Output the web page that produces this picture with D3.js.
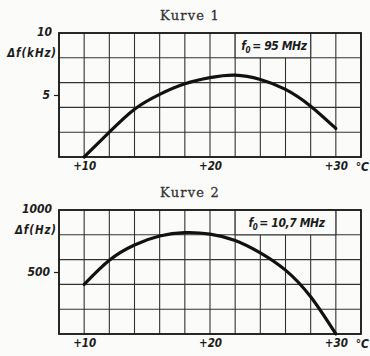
<!DOCTYPE html>
<html><head><meta charset="utf-8">
<script src="https://cdn.jsdelivr.net/npm/d3@7"></script>
<style>body{margin:0;background:#fbfbfa}svg{display:block}</style>
</head><body>
<svg id="c" width="370" height="356"></svg>
<script>
const temps = [10, 12, 14, 16, 18, 20, 22, 24, 26, 28, 30];
const curve1 = [0, 2.0, 3.85, 5.05, 5.9, 6.4, 6.6, 6.25, 5.45, 4.1, 2.3];
const curve2 = [400, 595, 718, 790, 818, 806, 755, 655, 515, 300, 0];
const xTickValues = [10, 20, 30];
const xTickLabels = ["+10", "+20", "+30"];
const yTicks1 = [10, 5];
const yTicks2 = [1000, 500];
const titles = ["Kurve 1", "Kurve 2"];
const units = ["Δf(kHz)", "Δf(Hz)"];
const freqs = ["= 95 MHz", "= 10,7 MHz"];

const svg = d3.select("#c");
const ink = "#1c1c1c";
const labFont = "'DejaVu Sans Condensed','DejaVu Sans',sans-serif";

function panel(top, yMax, values, yTicks, title, unit, freq, boxCols) {
  const x = d3.scaleLinear().domain([8, 32]).range([59, 361]);
  const y = d3.scaleLinear().domain([0, yMax]).range([top + 124, top]);
  const g = svg.append("g");
  // title
  g.append("text").attr("x", 190).attr("y", top - 13).attr("text-anchor", "middle")
    .attr("font-family", "'DejaVu Serif',serif").attr("font-size", 13)
    .attr("letter-spacing", 1.2).attr("fill", "#333").attr("stroke", "#333")
    .attr("stroke-width", 0.3).text(title);
  // grid
  const xs = d3.range(8, 33, 2), ys = d3.range(0, yMax + 1e-9, yMax / 5);
  g.selectAll(".v").data(xs).join("line").attr("x1", d => x(d)).attr("x2", d => x(d))
    .attr("y1", y(0)).attr("y2", y(yMax)).attr("stroke", "#333").attr("stroke-width", 1.1);
  g.selectAll(".h").data(ys).join("line").attr("y1", d => y(d)).attr("y2", d => y(d))
    .attr("x1", x(8)).attr("x2", x(32)).attr("stroke", "#333").attr("stroke-width", 1.1);
  // label box
  g.append("rect").attr("x", x(boxCols[0])).attr("y", y(yMax))
    .attr("width", x(boxCols[1]) - x(boxCols[0])).attr("height", y(yMax * 0.8) - y(yMax))
    .attr("fill", "#fbfbfa").attr("stroke", "#333").attr("stroke-width", 1.1);
  const t = g.append("text").attr("x", (x(boxCols[0]) + x(boxCols[1])) / 2 + 1)
    .attr("y", y(yMax * 0.9) + 4.5).attr("text-anchor", "middle")
    .attr("font-family", labFont).attr("font-style", "italic").attr("font-weight", "bold")
    .attr("font-size", 12).attr("fill", ink).attr("letter-spacing", -0.4);
  t.append("tspan").text("f");
  t.append("tspan").attr("font-size", 8).attr("dy", 3).text("0");
  t.append("tspan").attr("dy", -3).attr("dx", 2).text(freq);
  // frame
  g.append("rect").attr("x", x(8)).attr("y", y(yMax)).attr("width", x(32) - x(8))
    .attr("height", y(0) - y(yMax)).attr("fill", "none").attr("stroke", ink).attr("stroke-width", 1.8);
  // y axis
  const ya = d3.axisLeft(y).tickValues(yTicks).tickSize(5).tickPadding(4).tickFormat(d3.format("d"));
  const yg = g.append("g").attr("transform", `translate(${x(8)},0)`).call(ya);
  yg.select(".domain").remove();
  yg.selectAll(".tick line").attr("stroke", ink).attr("stroke-width", 1.2)
    .filter(d => d === yMax).remove();
  yg.selectAll(".tick text").attr("font-family", labFont).attr("font-style", "italic")
    .attr("font-weight", "bold").attr("font-size", 12).attr("fill", ink)
    .attr("dx", d => d === yMax ? 2 : 0).attr("dy", d => d === yMax ? "0.2em" : "0.32em");
  g.append("text").attr("x", x(8) - 2).attr("y", y(yMax * 0.8) - 1).attr("text-anchor", "end")
    .attr("font-family", labFont).attr("font-style", "italic").attr("font-weight", "bold")
    .attr("font-size", 11.5).attr("letter-spacing", 0.9).attr("fill", ink).text(unit);
  // x axis
  const xa = d3.axisBottom(x).tickValues(xTickValues).tickSize(0).tickPadding(5)
    .tickFormat((d, i) => xTickLabels[i]);
  const xg = g.append("g").attr("transform", `translate(0,${y(0)})`).call(xa);
  xg.select(".domain").remove();
  xg.selectAll(".tick text").attr("font-family", labFont).attr("font-style", "italic")
    .attr("font-weight", "bold").attr("font-size", 11.5).attr("fill", ink);
  g.append("text").attr("x", x(32) + 8).attr("y", y(0) + 13.5).attr("text-anchor", "end")
    .attr("font-family", labFont).attr("font-style", "italic").attr("font-weight", "bold")
    .attr("font-size", 12).attr("fill", ink).text("°C");
  // curve
  const line = d3.line().x((d, i) => x(temps[i])).y(d => y(d)).curve(d3.curveNatural);
  g.append("path").datum(values).attr("d", line).attr("fill", "none")
    .attr("stroke", "#111").attr("stroke-width", 3.2).attr("stroke-linecap", "round");
}

panel(33, 10, curve1, yTicks1, titles[0], units[0], freqs[0], [22, 28]);
panel(210, 1000, curve2, yTicks2, titles[1], units[1], freqs[1], [22, 30]);
</script>
</body></html>
